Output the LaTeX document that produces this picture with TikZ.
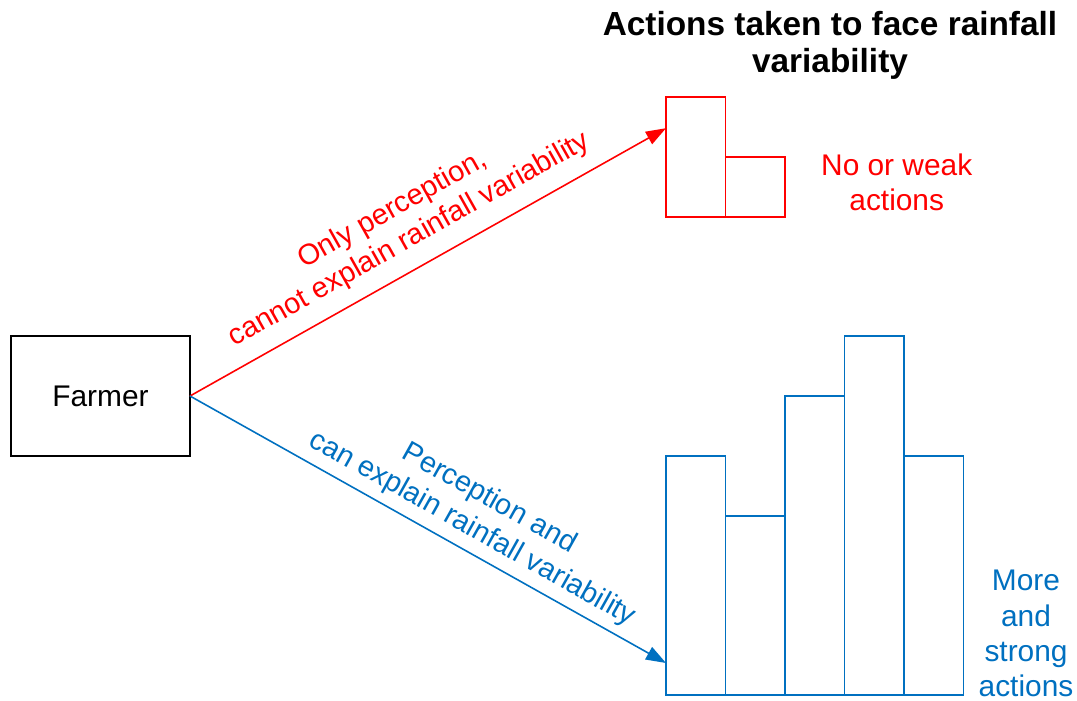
\documentclass[tikz,border=0pt]{standalone}
\usepackage{fontspec}
\setmainfont{Liberation Sans}
\usetikzlibrary{positioning,calc,arrows.meta}
\definecolor{weakred}{RGB}{255,0,0}
\definecolor{strongblue}{RGB}{0,112,192}

\begin{document}
\begin{tikzpicture}
    [%%%%%%%%%%%%%%%%%%%%%%%%%%%%%%
        x=0.02cm, y=-0.02cm,
        txt/.style={font=\fontsize{17}{20}\selectfont, align=center},
        lbl/.style={font=\fontsize{16.5}{19.5}\selectfont, align=center},
        farmerbox/.style={rectangle,draw=black,line width=1pt,minimum width=3.58cm,minimum height=2.4cm,inner sep=0pt,outer sep=0pt,txt},
        bar/.style={rectangle,line width=0.9pt,minimum width=1.19cm,inner sep=0pt,outer sep=0pt,anchor=south west},
        link/.style={line width=0.9pt,-{Triangle[length=0.4cm,width=0.28cm]}},
    ]%%%%%%%%%%%%%%%%%%%%%%%%%%%%%%
    \useasboundingbox (0,0) rectangle (1077,700);

    \node[farmerbox] (farmer) at (100.5,396) {Farmer};

    \node[align=center, font=\fontsize{19}{21}\selectfont\bfseries] (title) at (830,45) {Actions taken to face rainfall\\variability};

    % weak actions
    \node[bar, draw=weakred, minimum height=2.4cm] (r1) at (666,217) {};
    \node[bar, draw=weakred, minimum height=1.2cm] (r2) at (r1.south east) {};
    \node[txt, text=weakred, right=0.6cm of r2, yshift=0.1cm] (weak) {No or weak\\actions};

    % strong actions
    \node[bar, draw=strongblue, minimum height=4.78cm] (b1) at (666,695) {};
    \node[bar, draw=strongblue, minimum height=3.58cm] (b2) at (b1.south east) {};
    \node[bar, draw=strongblue, minimum height=5.98cm] (b3) at (b2.south east) {};
    \node[bar, draw=strongblue, minimum height=7.18cm] (b4) at (b3.south east) {};
    \node[bar, draw=strongblue, minimum height=4.78cm] (b5) at (b4.south east) {};
    \node[txt, text=strongblue, anchor=south, inner sep=0pt] (strong) at (1026,697) {More\\and\\strong\\actions};

    \draw[link, weakred] (farmer.east) -- ($(r1.north west)!0.26!(r1.south west)$)
        node[pos=0.49, sloped, above, lbl, inner sep=8pt] {Only perception,\\cannot explain rainfall variability};
    \draw[link, strongblue] (farmer.east) -- ($(b1.north west)!0.866!(b1.south west)$)
        node[pos=0.57, sloped, above, lbl, inner sep=4.5pt] {Perception and\\can explain rainfall variability};

\end{tikzpicture}
\end{document}
